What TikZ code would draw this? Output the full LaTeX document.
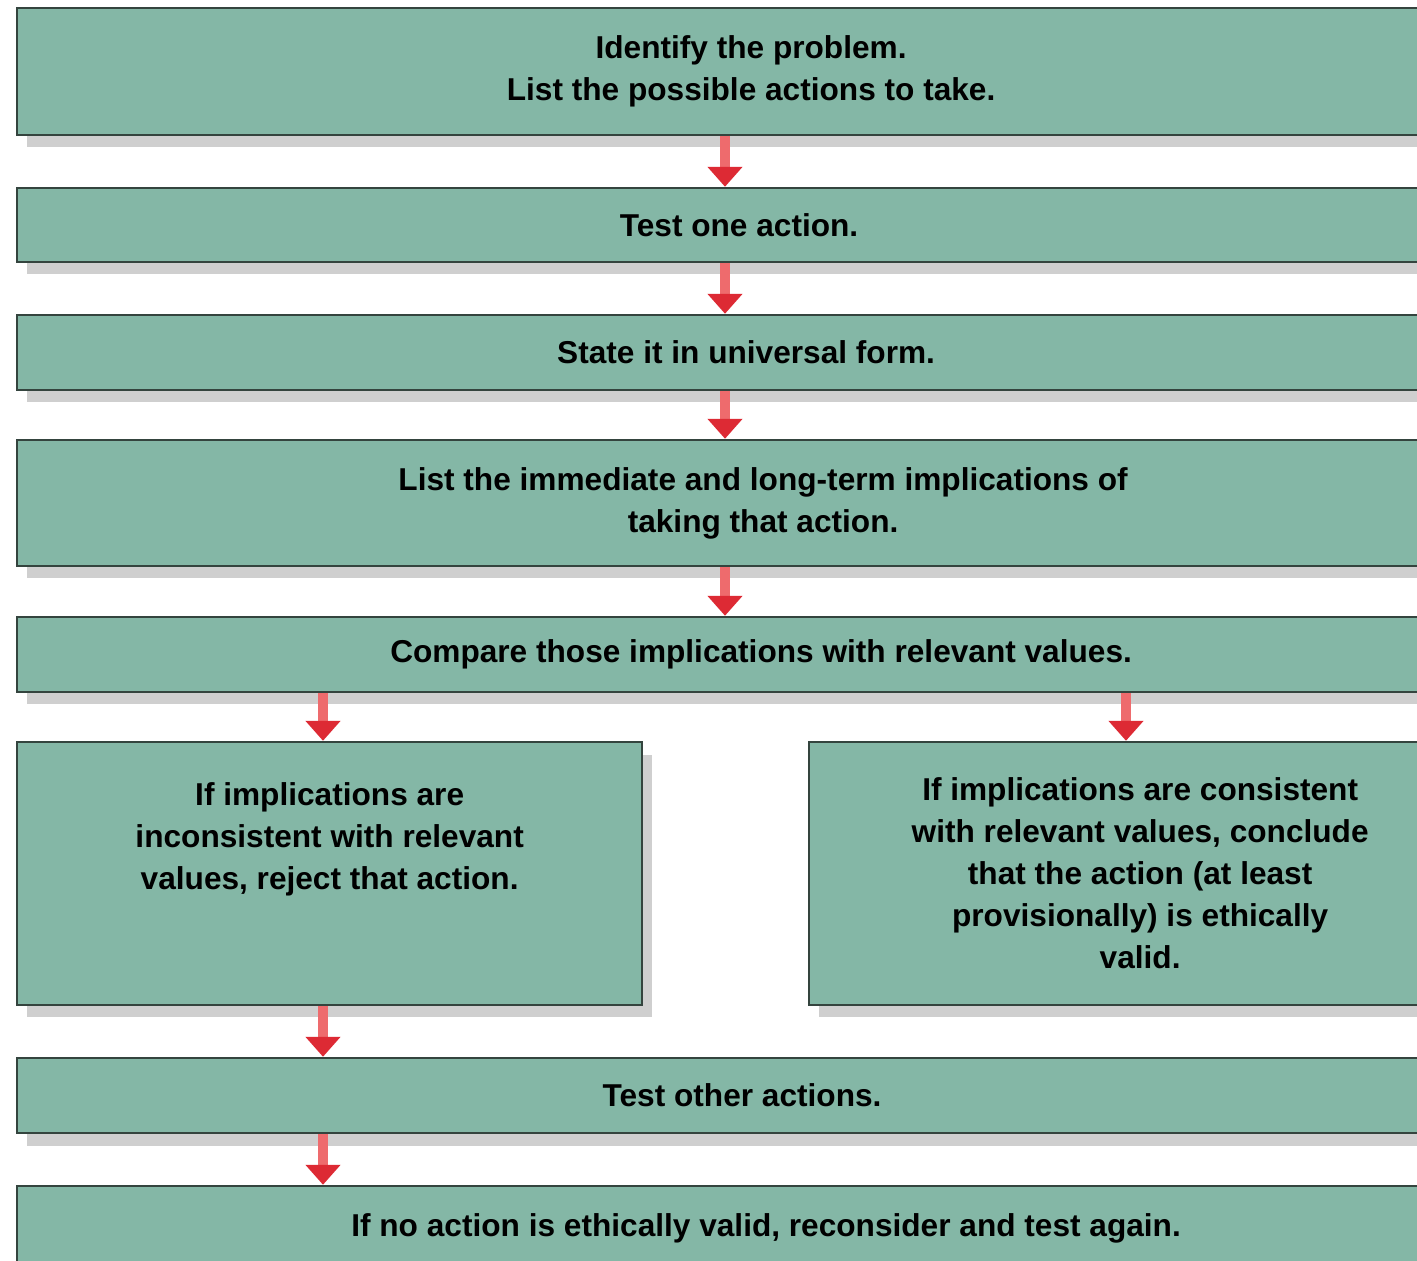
\documentclass[tikz,border=0pt]{standalone}
\usepackage{fontspec}
\setmainfont{Liberation Sans}
\usetikzlibrary{arrows.meta,shadows}
\definecolor{boxfill}{HTML}{84B7A6}
\definecolor{boxline}{HTML}{34443E}
\definecolor{shadowgray}{HTML}{CFCFCF}
\definecolor{arrowlight}{HTML}{EE6B6D}
\definecolor{arrowdark}{HTML}{DD2A34}
\tikzset{
  stepbox/.style={rectangle, draw=boxline, line width=1.4pt, fill=boxfill,
    inner sep=0pt, align=center, anchor=west,
    font=\fontsize{18}{23.9}\selectfont\bfseries,
    drop shadow={shadow xshift=0.2cm, shadow yshift=-0.25cm, fill=shadowgray, opacity=1}},
  flow/.style={line width=6pt, draw=arrowlight,
    -{Triangle[length=0.4cm, width=0.68cm, color=arrowdark, fill=arrowdark]}}
}
\begin{document}
\begin{tikzpicture}[x=0.02cm, y=-0.02cm]
  \useasboundingbox (0,0) rectangle (1417,1261);
  \fill[white] (0,0) rectangle (1417,1261);
  \clip (0,0) rectangle (1417,1261);
  \coordinate (leftx) at (323,0);
  \coordinate (midx) at (725,0);
  \coordinate (rightx) at (1126,0);
  \node[stepbox, minimum width=29.36cm, minimum height=2.54cm] (identify) at (16,71.5)
    {Identify the problem.\\List the possible actions to take.};
  \node[stepbox, minimum width=28.88cm, minimum height=1.48cm] (testone) at (16,225)
    {Test one action.};
  \node[stepbox, minimum width=29.16cm, minimum height=1.5cm] (universal) at (16,352.5)
    {State it in universal form.};
  \node[stepbox, minimum width=29.84cm, minimum height=2.52cm] (implications) at (16,503)
    {List the immediate and long-term implications of\\taking that action.};
  \node[stepbox, minimum width=29.76cm, minimum height=1.5cm] (compare) at (16,654.5)
    {Compare those implications with relevant values.};
  \node[stepbox, minimum width=12.5cm, minimum height=5.26cm, text depth=43pt] (reject) at (16,873.5)
    {If implications are\\inconsistent with relevant\\values, reject that action.};
  \node[stepbox, minimum width=13.24cm, minimum height=5.26cm] (valid) at (808,873.5)
    {If implications are consistent\\with relevant values, conclude\\that the action (at least\\provisionally) is ethically\\valid.};
  \node[stepbox, minimum width=29cm, minimum height=1.5cm] (testother) at (16,1095.5)
    {Test other actions.};
  \node[stepbox, minimum width=29.96cm, minimum height=1.68cm] (reconsider) at (16,1228)
    {If no action is ethically valid, reconsider and test again.};
  \begin{scope}[flow]
    \draw (identify.south -| midx) -- (testone.north -| midx);
    \draw (testone.south -| midx) -- (universal.north -| midx);
    \draw (universal.south -| midx) -- (implications.north -| midx);
    \draw (implications.south -| midx) -- (compare.north -| midx);
    \draw (compare.south -| leftx) -- (reject.north -| leftx);
    \draw (compare.south -| rightx) -- (valid.north -| rightx);
    \draw (reject.south -| leftx) -- (testother.north -| leftx);
    \draw (testother.south -| leftx) -- (reconsider.north -| leftx);
  \end{scope}
\end{tikzpicture}
\end{document}
